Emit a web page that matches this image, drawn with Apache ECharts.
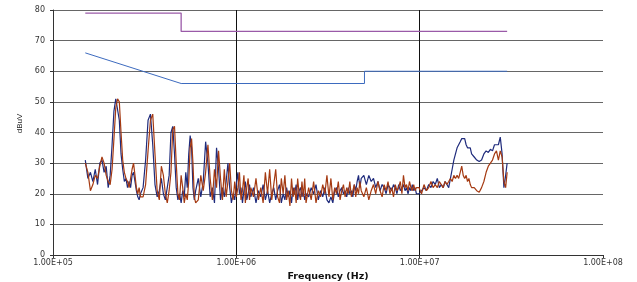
<!DOCTYPE html>
<html><head><meta charset="utf-8">
<script src="https://cdn.jsdelivr.net/npm/echarts@6/dist/echarts.min.js"></script>
<style>html,body{margin:0;padding:0;background:#fff}#c{width:637px;height:282px}</style>
</head><body><div id="c"></div>
<script>
// Frequencies of the measurement sweep (kHz)
const freqKHz = [
150,155,160,165,170,175,180,185,190,195,200,205,210,215,220,225,230,235,240,245,250,255,260,265,270,275,280,285,290,295,300,
310,320,330,340,350,360,370,380,390,400,410,420,430,440,450,460,470,480,490,500,510,520,530,540,550,560,570,580,590,600,
620,640,660,680,700,720,740,760,780,800,820,840,860,880,900,920,940,960,980,1000,1020,1040,1060,1080,1100,1120,1140,1160,1180,1200,
1240,1280,1320,1360,1400,1440,1480,1520,1560,1600,1640,1680,1720,1760,1800,1840,1880,1920,1960,2000,2040,2080,2120,2160,2200,2240,2280,2320,2360,2400,
2480,2560,2640,2720,2800,2880,2960,3040,3120,3200,3280,3360,3440,3520,3600,3680,3760,3840,3920,4000,4080,4160,4240,4320,4400,4480,4560,4640,4720,4800,
4960,5120,5280,5440,5600,5760,5920,6080,6240,6400,6560,6720,6880,7040,7200,7360,7520,7680,7840,8000,8160,8320,8480,8640,8800,8960,9120,9280,9440,9600,
9920,10240,10560,10880,11200,11520,11840,12160,12480,12800,13120,13440,13760,14080,14400,14720,15040,15360,15680,16000,16320,16640,16960,17280,17600,17920,18240,18560,18880,19200,
19840,20480,21120,21760,22400,23040,23680,24320,24960,25600,26240,26880,27520,28160,28800,29440,30000
];
// Navy trace (dBuV)
const traceNavy = [
31,25,27,24,28,23,30,31,27,29,22,26,36,47,51,50.5,44,33,28,24,25,22,24,22,26,27,24,21,19,18,20,
22,31,44,46,36,23,19,21,25,20,18,22,26,40,42,33,22,18,20,17,21,19,27,22,33,39,35,22,18,21,
25,19,24,37,30,19,22,17,35,28,18,22,19,24,30,22,17,20,18,23,27,20,22,17,21,24,18,20,23,19,
22,17,21,19,23,18,21,17,20,22,18,21,23,17,20,18,22,19,21,17,22,20,23,18,21,22,19,21,18,20,
19,22,20,23,18,21,19,22,18,17,19,17,21,22,19,21,22,20,21,19,22,20,21,19,23,21,24,26,22,25,
26,23,26,24,25,22,24,21,23,22,20,23,22,21,23,22,20,23,21,22,23,21,22,20,22,21,23,21,22,20,
20,21,22,21,23,22,24,23,25,22,23,22,24,23,22,25,28,31,33,35,36,37,38,38.5,38,36,35,34.5,35,33,
32,31,30.5,31,33,34,33.5,34.5,34,36,35.5,36,38.5,33,22,26,30
];
// Brown trace (dBuV)
const traceBrown = [
30,27,21,23,26,25,29,32,30,26,24,23,28,38,48,51,50,40,31,27,25,24,22,25,28,30,26,22,20,22,19,
19,23,34,44,46,33,21,18,29,26,20,17,21,27,41,42,30,20,18,26,22,17,20,18,24,35,38,30,19,17,
18,26,21,27,36,25,18,28,22,34,25,18,28,19,24,30,21,18,24,19,22,27,18,21,26,17,22,25,18,22,
19,25,18,22,17,27,20,28,18,23,28,19,17,25,20,26,18,21,16,25,19,22,17,25,20,18,24,19,25,17,
22,18,24,17,21,19,23,20,26,19,25,18,22,20,24,18,21,23,19,22,20,24,19,21,23,19,22,20,24,21,
19,22,18,21,23,20,24,21,19,23,21,24,20,22,19,23,21,22,24,20,26,22,23,21,24,22,21,23,21,22,
22,20,23,21,22,24,22,23,22,24,23,22,24,23,24,25,24,26,25,26,25,27,29,26,25,26,24,25,23,22,
22,21,20.5,22,24,27,29,30,31,33,34,31,34,32,24,22,27
];
// Limit lines
const limitQPFreqKHz = [150,500,500,30000];
const limitQPVal = [79,79,73,73];
const limitAVFreqKHz = [150,500,5000,5000,30000];
const limitAVVal = [66,56,56,60,60];
const yTicks = [0,80,10]; // min, max, step

const pairs = (fs, vs) => fs.map((f, i) => [f * 1000, vs[i]]);
const fmtE = v => v.toExponential(2).toUpperCase().replace(/E([+-])(\d)$/, 'E$10$2');
const FONT = 'DejaVu Sans';

const chart = echarts.init(document.getElementById('c'), null, {renderer: 'canvas'});
chart.setOption({
  animation: false,
  backgroundColor: '#fff',
  grid: {left: 53, right: 34, top: 10, bottom: 27, containLabel: false, outerBoundsMode: 'none'},
  xAxis: {
    type: 'log', logBase: 10, min: 1e5, max: 1e8,
    name: 'Frequency (Hz)', nameLocation: 'middle', nameGap: 11,
    nameTextStyle: {fontFamily: FONT, fontWeight: 'bold', fontSize: 9.5, color: '#111'},
    axisLine: {show: true, onZero: false, lineStyle: {color: '#333', width: 1}},
    axisTick: {show: true, length: 3, lineStyle: {color: '#333'}},
    minorTick: {show: false},
    axisLabel: {fontFamily: FONT, fontSize: 8, color: '#333', margin: 4, formatter: fmtE},
    splitLine: {show: true, showMinLine: false, showMaxLine: false, lineStyle: {color: '#111', width: 1}}
  },
  yAxis: {
    type: 'value', min: yTicks[0], max: yTicks[1], interval: yTicks[2],
    name: 'dBuV', nameLocation: 'middle', nameGap: 29,
    nameTextStyle: {fontFamily: 'Liberation Sans', fontSize: 8, color: '#222', padding: [0, 0, 0, 18]},
    axisLine: {show: true, lineStyle: {color: '#333', width: 1}},
    axisTick: {show: true, length: 3, lineStyle: {color: '#333'}},
    axisLabel: {fontFamily: FONT, fontSize: 8, color: '#333', margin: 8},
    splitLine: {show: true, lineStyle: {color: '#666', width: 1}}
  },
  series: [
    {type: 'line', name: 'QP limit', data: pairs(limitQPFreqKHz, limitQPVal), showSymbol: false,
     lineStyle: {color: '#9a5aa8', width: 1.3}, z: 3},
    {type: 'line', name: 'AV limit', data: pairs(limitAVFreqKHz, limitAVVal), showSymbol: false,
     lineStyle: {color: '#3d6bbf', width: 1}, z: 3},
    {type: 'line', name: 'Trace 1', data: pairs(freqKHz, traceNavy), showSymbol: false,
     lineStyle: {color: '#1f2b7c', width: 1.2}, z: 4},
    {type: 'line', name: 'Trace 2', data: pairs(freqKHz, traceBrown), showSymbol: false,
     lineStyle: {color: '#a53a12', width: 1.2}, z: 5}
  ]
});
</script>
</body></html>
